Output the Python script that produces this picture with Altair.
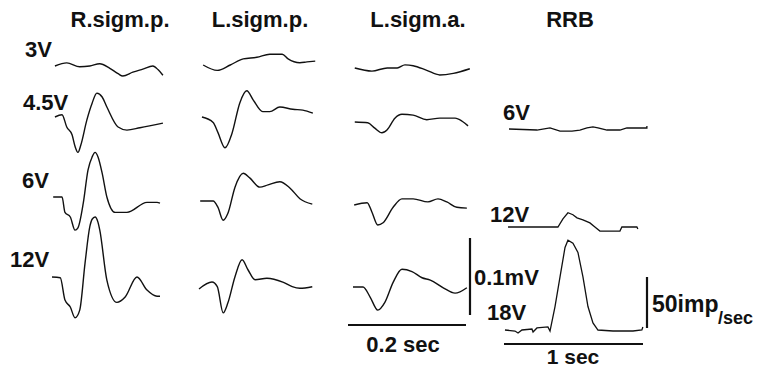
import altair as alt
import pandas as pd

# ---------------- text ----------------
TITLES = ["R.sigm.p.", "L.sigm.p.", "L.sigm.a.", "RRB"]
ROW_LABELS = ["3V", "4.5V", "6V", "12V"]
RRB_LABELS = ["6V", "12V", "18V"]
EP_V_BAR_LABEL = "0.1mV"
EP_T_BAR_LABEL = "0.2 sec"
RRB_V_BAR_LABEL = "50imp"
RRB_V_BAR_SUB = "/sec"
RRB_T_BAR_LABEL = "1 sec"

# scale bar values (data units)
EP_T_BAR_MS = 200
EP_V_BAR_UV = 100
RRB_T_BAR_MS = 1000
RRB_V_BAR_IMP = 50

# ---------------- evoked potentials: time (ms), amplitude (µV) ----------------
R3_T = [5, 25, 47, 64, 81, 98, 112, 120, 137, 154, 171, 180, 188]
R3_V = [0, 4, -1, 0, 3, -3, -10, -13, -8, -4, 0, -5, -12]
R45_T = [5, 17, 25, 34, 39, 44, 49, 59, 68, 76, 85, 93, 112, 127, 149, 188]
R45_V = [0, 3, -13, -23, -38, -46, -36, -4, 18, 31, 26, 13, -13, -17, -14, -8]
R6_T = [2, 17, 22, 31, 39, 44, 53, 61, 68, 73, 78, 85, 93, 107, 127, 161, 178, 183]
R6_V = [0, 0, -20, -26, -43, -40, -8, 35, 52, 58, 52, 31, 0, -20, -20, -7, -7, -8]
R12_T = [0, 14, 22, 31, 39, 47, 56, 64, 68, 73, 78, 81, 93, 110, 124, 144, 161, 178, 183]
R12_V = [0, -1, -30, -39, -53, -43, 18, 65, 75, 78, 71, 61, -4, -33, -26, 0, -17, -25, -25]

L3_T = [7, 31, 53, 75, 98, 120, 141, 151, 171, 183, 197]
L3_V = [0, -7, 0, 8, 10, 14, 14, 8, 3, 4, 5]
L45_T = [5, 24, 32, 44, 56, 69, 81, 92, 108, 120, 137, 159, 176, 193]
L45_V = [0, -7, -20, -40, -21, 18, 34, 22, 7, 7, 13, 10, 9, 5]
L6_T = [2, 24, 32, 41, 49, 61, 75, 86, 103, 117, 137, 154, 171, 192]
L6_V = [0, 0, -8, -25, -16, 18, 36, 30, 18, 21, 25, 17, 3, -4]
L12_T = [0, 22, 31, 41, 49, 61, 73, 83, 95, 115, 142, 158, 171, 192]
L12_V = [0, 9, 3, -31, -18, 16, 38, 25, 12, 14, 9, 3, 1, 3]

A3_T = [3, 32, 58, 75, 88, 102, 125, 147, 170, 198]
A3_V = [0, -4, 0, 0, 4, 3, -3, -9, -7, -1]
A45_T = [3, 25, 37, 49, 58, 71, 83, 102, 125, 147, 173, 185, 195]
A45_V = [0, -1, -8, -14, -10, 5, 10, 9, 3, 5, 5, 1, -5]
A6_T = [2, 24, 32, 42, 51, 68, 83, 102, 127, 144, 159, 176, 193]
A6_V = [0, 3, -9, -26, -23, -3, 8, 8, 4, 8, 4, -3, -4]
A12_T = [0, 17, 29, 42, 54, 68, 83, 100, 117, 131, 153, 173, 193]
A12_V = [0, 0, -13, -30, -20, 6, 23, 20, 12, 9, -1, -8, -1]

# ---------------- RRB firing rate: time (ms), rate change (imp/sec) ----------------
B6_T = [36, 237, 331, 403, 489, 546, 597, 640, 676, 741, 834, 884, 1028, 1028]
B6_V = [0, -1, 1, -2, -2, -1, 1, 2, 1, -1, -1, 1, 1, 3]
B12_T = [29, 388, 424, 460, 496, 525, 568, 618, 654, 690, 834, 848, 956, 963]
B12_V = [0, 0, 8, 14, 12, 9, 7, 4, 0, -4, -4, 0, 0, -2]
B18_T = [7, 79, 101, 129, 201, 209, 237, 316, 331, 367, 403, 439, 460, 496, 532,
         568, 604, 640, 676, 784, 928, 992, 999]
B18_V = [0, -1, -3, 0, 1, -2, 2, 3, -1, 23, 52, 81, 88, 85, 76, 52, 23, 7, 0, -1,
         -1, 0, 3]

# ---------------- layout (page pixels) ----------------
COL_X0 = [52, 199, 353, 504]
PX_PER_MS = [0.59, 0.59, 0.59, 0.139]
PX_PER_UNIT = [0.77, 0.77, 0.77, 1.02]
EP_BASE = {0: [66, 117, 197, 277], 1: [65, 117, 201, 289], 2: [68, 122, 205, 287]}
RRB_BASE = [129, 227, 330]

TRACES = [
    (0, 0, R3_T, R3_V), (0, 1, R45_T, R45_V), (0, 2, R6_T, R6_V), (0, 3, R12_T, R12_V),
    (1, 0, L3_T, L3_V), (1, 1, L45_T, L45_V), (1, 2, L6_T, L6_V), (1, 3, L12_T, L12_V),
    (2, 0, A3_T, A3_V), (2, 1, A45_T, A45_V), (2, 2, A6_T, A6_V), (2, 3, A12_T, A12_V),
    (3, 0, B6_T, B6_V), (3, 1, B12_T, B12_V), (3, 2, B18_T, B18_V),
]

rows = []
for i, (col, r, T, V) in enumerate(TRACES):
    y0 = RRB_BASE[r] if col == 3 else EP_BASE[col][r]
    for k, (t, v) in enumerate(zip(T, V)):
        rows.append({"trace": i, "k": k, "kind": "rrb" if col == 3 else "ep",
                     "px": COL_X0[col] + t * PX_PER_MS[col],
                     "py": y0 - v * PX_PER_UNIT[col]})
tr = pd.DataFrame(rows)

# scale bars derived from data units
bars = pd.DataFrame([
    {"px": 470, "px2": 470, "py": 315, "py2": 315 - EP_V_BAR_UV * PX_PER_UNIT[0]},
    {"px": 348, "px2": 348 + EP_T_BAR_MS * PX_PER_MS[0], "py": 325, "py2": 325},
    {"px": 647, "px2": 647, "py": 328, "py2": 328 - RRB_V_BAR_IMP * PX_PER_UNIT[3]},
    {"px": 504, "px2": 504 + RRB_T_BAR_MS * PX_PER_MS[3], "py": 344, "py2": 344},
])

left_text = pd.DataFrame(
    [{"text": t, "px": x, "py": y, "size": 22} for t, x, y in zip(
        ROW_LABELS, [25, 23, 22, 10], [57, 110, 188, 267])]
    + [{"text": t, "px": x, "py": y, "size": 22} for t, x, y in zip(
        RRB_LABELS, [503, 490, 487], [120, 222, 320])]
    + [{"text": EP_V_BAR_LABEL, "px": 474, "py": 285, "size": 22},
       {"text": RRB_V_BAR_LABEL, "px": 652, "py": 312, "size": 23},
       {"text": RRB_V_BAR_SUB, "px": 718, "py": 324, "size": 18}]
)

center_text = pd.DataFrame(
    [{"text": t, "px": x, "py": 27, "size": 22} for t, x in zip(TITLES, [120, 260, 418, 570])]
    + [{"text": EP_T_BAR_LABEL, "px": 403, "py": 352, "size": 22},
       {"text": RRB_T_BAR_LABEL, "px": 573, "py": 364, "size": 21}]
)

X = alt.X("px:Q", scale=alt.Scale(domain=[8, 756], nice=False, zero=False), axis=None)
Y = alt.Y("py:Q", scale=alt.Scale(domain=[8, 373], nice=False, zero=False, reverse=True), axis=None)
INK = "#111111"

ep = alt.Chart(tr[tr.kind == "ep"]).mark_line(
    color=INK, strokeWidth=1.4, interpolate="monotone"
).encode(x=X, y=Y, detail="trace:N", order="k:Q")

rrb = alt.Chart(tr[tr.kind == "rrb"]).mark_line(
    color=INK, strokeWidth=1.3, interpolate="linear"
).encode(x=X, y=Y, detail="trace:N", order="k:Q")

rules = alt.Chart(bars).mark_rule(color=INK, strokeWidth=2.2).encode(
    x=X, x2="px2:Q", y=Y, y2="py2:Q")

lt = alt.Chart(left_text).mark_text(
    align="left", baseline="alphabetic", font="Liberation Sans", fontWeight="bold", color=INK
).encode(x=X, y=Y, text="text:N", size=alt.Size("size:Q", scale=None))

ct = alt.Chart(center_text).mark_text(
    align="center", baseline="alphabetic", font="Liberation Sans", fontWeight="bold", color=INK
).encode(x=X, y=Y, text="text:N", size=alt.Size("size:Q", scale=None))

chart = alt.layer(ep, rrb, rules, lt, ct).properties(
    width=748, height=365, padding=0,
    autosize=alt.AutoSizeParams(type="none"),
    background="white",
).configure_view(stroke=None)

chart.save("out.html", embed_options={"renderer": "svg", "actions": False})
